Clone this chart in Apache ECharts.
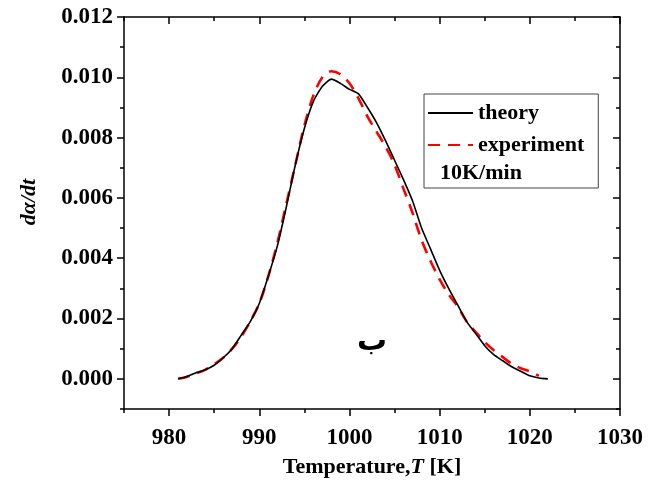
<!DOCTYPE html>
<html>
<head>
<meta charset="utf-8">
<script src="https://cdn.jsdelivr.net/npm/echarts@6/dist/echarts.min.js"></script>
<style>html,body{margin:0;padding:0;background:#fff}#c{width:653px;height:489px}</style>
</head>
<body>
<div id="c"></div>
<script>
// ---- data ----
var theoryT = [981,982,983,984,985,986,987,988,989,990,991,992,993,994,995,996,997,998,999,1000,1001,1002,1003,1004,1005,1006,1007,1008,1009,1010,1011,1012,1013,1014,1015,1016,1017,1018,1019,1020,1021,1022];
var theoryV = [0,0.00008,0.0002,0.0003,0.00045,0.0007,0.001,0.00145,0.0019,0.0025,0.0034,0.0044,0.0057,0.0071,0.0083,0.0092,0.0097,0.00994,0.0098,0.0096,0.00945,0.0090,0.0085,0.0079,0.00725,0.0066,0.0059,0.0050,0.0043,0.0036,0.0030,0.00245,0.0019,0.0015,0.0011,0.0008,0.0006,0.0004,0.00025,0.0001,0.00003,0];
var expT = [981,982,983,984,985,986,987,988,989,990,991,992,993,994,995,996,997,998,999,1000,1001,1002,1003,1004,1005,1006,1007,1008,1009,1010,1011,1012,1013,1014,1015,1016,1017,1018,1019,1020,1021];
var expV = [0,0.00007,0.00018,0.0003,0.00048,0.0007,0.001,0.0014,0.0019,0.0025,0.0034,0.0045,0.0058,0.0071,0.0084,0.0094,0.0100,0.0102,0.0101,0.0098,0.0093,0.0087,0.0082,0.0077,0.0071,0.0063,0.0055,0.0046,0.0039,0.0033,0.0028,0.0024,0.0019,0.00155,0.00122,0.00095,0.00072,0.0005,0.00035,0.00025,0.0001];
var xMajor = [980,990,1000,1010,1020,1030];
var xMinor = [975,985,995,1005,1015,1025];
var yMajor = [0,0.002,0.004,0.006,0.008,0.010,0.012];
var yMinor = [-0.001,0.001,0.003,0.005,0.007,0.009,0.011];
var seriesNames = ['theory','experiment'];
var noteText = '10K/min';
var panelMark = 'ب';

function pairs(a,b){return a.map(function(t,i){return [t,b[i]];});}
var F = 'Liberation Serif, Times New Roman, serif';
var lbl = {fontFamily:F,fontWeight:'bold',fontSize:23,color:'#000'};
var axLine = {show:true,onZero:false,lineStyle:{color:'#000',width:1.5}};
var noLine = {show:false,onZero:false};

function xAx(pos, vals, len, inside, labels, line){
  return {type:'value',position:pos,min:975,max:1030,
    axisLine: line?axLine:noLine,
    axisTick:{show:true,inside:inside,length:len,customValues:vals,lineStyle:{color:'#000',width:1.5}},
    axisLabel: labels?Object.assign({show:true,margin:18,customValues:vals,formatter:function(v){return String(Math.round(v));}},lbl):{show:false},
    splitLine:{show:false}};
}
function yAx(pos, vals, len, inside, labels, line){
  return {type:'value',position:pos,min:-0.001,max:0.012,
    axisLine: line?axLine:noLine,
    axisTick:{show:true,inside:inside,length:len,customValues:vals,lineStyle:{color:'#000',width:1.5}},
    axisLabel: labels?Object.assign({show:true,margin:11,customValues:vals,formatter:function(v){return v.toFixed(3);}},lbl):{show:false},
    splitLine:{show:false}};
}

var xa0 = xAx('bottom', xMajor, 7, false, true, true);
xa0.name = '{a|Temperature,}{b|T}{a| [K]}';
xa0.nameLocation = 'middle';
xa0.nameGap = 47;
xa0.nameTextStyle = {rich:{a:{fontFamily:F,fontWeight:'bold',fontSize:22,color:'#000'},b:{fontFamily:F,fontWeight:'bold',fontStyle:'italic',fontSize:22,color:'#000'}}};

var ya0 = yAx('left', yMajor, 7, false, true, true);
ya0.name = 'dα/dt';
ya0.nameLocation = 'middle';
ya0.nameGap = 84;
ya0.nameTextStyle = {fontFamily:F,fontWeight:'bold',fontStyle:'italic',fontSize:22,color:'#000',padding:[0,0,0,22]};

var option = {
  animation:false,
  backgroundColor:'#fff',
  grid:{left:124,top:17,right:33,bottom:80,containLabel:false},
  xAxis:[xa0, xAx('bottom',xMinor,4,false,false,false), xAx('top',xMajor,7,true,false,true), xAx('top',xMinor,4,true,false,false)],
  yAxis:[ya0, yAx('left',yMinor,4,false,false,false), yAx('right',yMajor,7,true,false,true), yAx('right',yMinor,4,true,false,false)],
  legend:{
    left:424, top:94, orient:'vertical',
    data:seriesNames,
    itemWidth:45, itemHeight:14, itemGap:10,
    padding:[8,14,32,3],
    borderColor:'#444', borderWidth:1,
    itemStyle:{opacity:0},
    textStyle:{fontFamily:F,fontWeight:'bold',fontSize:22,color:'#000',lineHeight:22}
  },
  graphic:[
    {type:'text',left:440,top:162,style:{text:noteText,fontFamily:F,fontWeight:'bold',fontSize:22,fill:'#000'}},
    {type:'text',x:372,y:342,style:{text:panelMark,fontFamily:'DejaVu Sans',fontWeight:'bold',fontSize:30,fill:'#000',align:'center',verticalAlign:'middle'}}
  ],
  series:[
    {name:seriesNames[0],type:'line',data:pairs(theoryT,theoryV),symbol:'none',smooth:0.2,
     lineStyle:{color:'#000',width:1.6,type:'solid'},itemStyle:{color:'#000'},z:3},
    {name:seriesNames[1],type:'line',data:pairs(expT,expV),symbol:'none',smooth:0.3,
     lineStyle:{color:'#ff0000',width:2.6,type:[12,8]},itemStyle:{color:'#ff0000'},z:2}
  ]
};
echarts.init(document.getElementById('c')).setOption(option);
</script>
</body>
</html>
